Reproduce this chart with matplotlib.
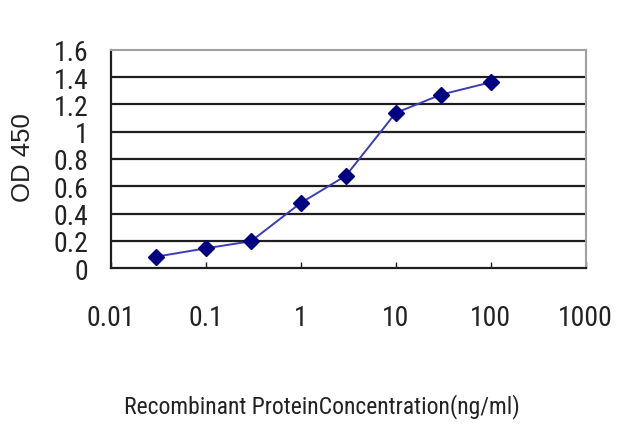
import matplotlib
matplotlib.use("Agg")
import matplotlib.pyplot as plt
from matplotlib.ticker import FixedLocator, FixedFormatter, NullLocator

plt.rcParams['font.family'] = ['Roboto Condensed', 'DejaVu Sans']

concentration = [0.03, 0.1, 0.3, 1, 3, 10, 30, 100]
od450 = [0.085, 0.146, 0.198, 0.478, 0.678, 1.137, 1.271, 1.361]
x_ticks = [0.01, 0.1, 1, 10, 100, 1000]
x_tick_labels = ["0.01", "0.1", "1", "10", "100", "1000"]
y_ticks = [0, 0.2, 0.4, 0.6, 0.8, 1.0, 1.2, 1.4, 1.6]
y_tick_labels = ["0", "0.2", "0.4", "0.6", "0.8", "1", "1.2", "1.4", "1.6"]

fig = plt.figure(figsize=(6.4, 4.27), dpi=100)
ax = fig.add_axes([0.173, 0.3693, 0.742, 0.512])

ax.plot(concentration, od450, color='#3c3cb4', linewidth=1.4, zorder=3)
ax.plot(concentration, od450, linestyle='none', marker='D', markersize=8,
        color='#000080', zorder=4)

ax.set_xscale('log')
ax.set_xlim(0.01, 1000)
ax.set_ylim(0, 1.6)
ax.xaxis.set_major_locator(FixedLocator(x_ticks))
ax.xaxis.set_major_formatter(FixedFormatter(x_tick_labels))
ax.xaxis.set_minor_locator(NullLocator())
ax.yaxis.set_major_locator(FixedLocator(y_ticks))
ax.yaxis.set_major_formatter(FixedFormatter(y_tick_labels))

for y in y_ticks[1:-1]:
    ax.axhline(y, color='#1e1e1e', linewidth=1.6, zorder=1)

for s in ('left', 'bottom'):
    ax.spines[s].set_color('#1e1e1e')
    ax.spines[s].set_linewidth(1.6)
for s in ('top', 'right'):
    ax.spines[s].set_color('#a0a0a0')
    ax.spines[s].set_linewidth(1.5)

ax.tick_params(axis='x', direction='in', length=4, width=1, pad=26,
               labelsize=20, colors='#222222')
ax.tick_params(axis='y', direction='in', length=0, pad=16,
               labelsize=20, colors='#222222')

fig.text(0.036, 0.632, 'OD 450', rotation=90, ha='center', va='center',
         fontsize=18.5, color='#222222', family=['Liberation Sans', 'DejaVu Sans'])
fig.text(0.503, 0.047, 'Recombinant ProteinConcentration(ng/ml)', ha='center',
         va='center', fontsize=17, color='#222222')

fig.savefig('out.png', dpi=100)
